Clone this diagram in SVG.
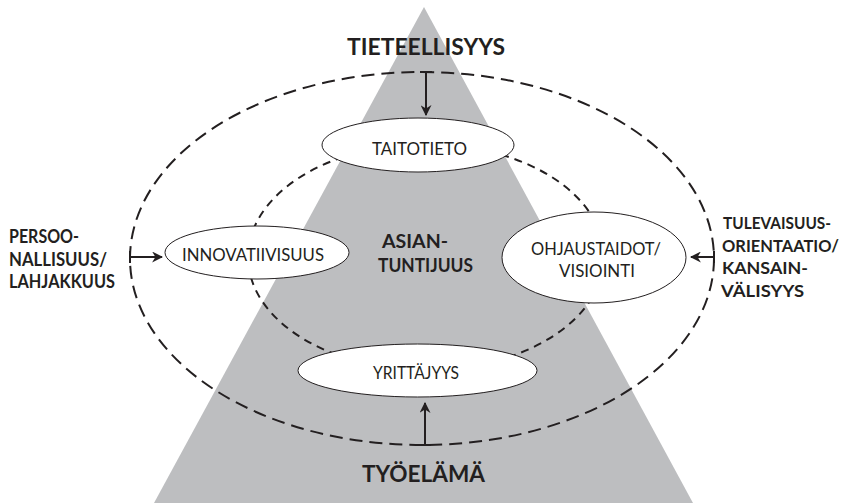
<svg xmlns="http://www.w3.org/2000/svg" width="847" height="503" viewBox="0 0 847 503">
  <defs>
    <style>
      .ring-outer { fill: none; stroke: #231f20; stroke-width: 2; stroke-dasharray: 13 7; }
      .ring-inner { fill: none; stroke: #231f20; stroke-width: 2; stroke-dasharray: 8 6; }
      .node { fill: #ffffff; stroke: #231f20; stroke-width: 1; }
      .link { fill: none; stroke: #231f20; stroke-width: 2; marker-end: url(#head); }
      .tick { stroke: #231f20; stroke-width: 2; }
      .lbl { font-family: Lato, "Liberation Sans", sans-serif; fill: #231f20; }
      .node-txt { font-size: 17.5px; font-weight: 400; }
      .side { font-size: 18.5px; font-weight: 700; }
      .side-r { font-size: 17px; font-weight: 700; }
      .title { font-size: 22.5px; font-weight: 700; }
    </style>
    <marker id="head" viewBox="0 0 10 10" refX="9" refY="5" markerWidth="5.5" markerHeight="5.5" orient="auto" markerUnits="strokeWidth">
      <path d="M0,0 L10,5 L0,10 L3,5 z" fill="#231f20"/>
    </marker>
  </defs>

  <!-- pyramid background -->
  <polygon id="pyramid" points="424,7 693,503 154,503" fill="#bdbec0"/>

  <!-- dashed rings -->
  <ellipse class="ring-outer" cx="422" cy="258.5" rx="292" ry="186.5"/>
  <ellipse class="ring-inner" cx="426" cy="257" rx="178" ry="113"/>

  <!-- connectors -->
  <g id="connectors">
    <line class="link" x1="426" y1="72" x2="426" y2="115"/>
    <line class="tick" x1="420" y1="72" x2="432" y2="72"/>
    <line class="link" x1="425" y1="445" x2="425" y2="403"/>
    <line class="tick" x1="419" y1="445" x2="431" y2="445"/>
    <line class="link" x1="130" y1="257" x2="162" y2="257"/>
    <line class="tick" x1="130" y1="251" x2="130" y2="263"/>
    <line class="link" x1="714" y1="257" x2="691" y2="257"/>
    <line class="tick" x1="714" y1="251" x2="714" y2="263"/>
  </g>

  <!-- nodes -->
  <g id="taitotieto">
    <ellipse class="node" cx="418" cy="145" rx="96" ry="27"/>
    <text class="lbl node-txt" x="372" y="155" textLength="95" lengthAdjust="spacingAndGlyphs">TAITOTIETO</text>
  </g>
  <g id="innovatiivisuus">
    <ellipse class="node" cx="257" cy="252.5" rx="92" ry="26.5"/>
    <text class="lbl node-txt" x="182" y="261" textLength="142" lengthAdjust="spacingAndGlyphs">INNOVATIIVISUUS</text>
  </g>
  <g id="ohjaustaidot">
    <ellipse class="node" cx="594" cy="257.5" rx="92" ry="45.5"/>
    <text class="lbl node-txt" x="531" y="255" textLength="130" lengthAdjust="spacingAndGlyphs">OHJAUSTAIDOT/</text>
    <text class="lbl node-txt" x="559" y="277" textLength="76" lengthAdjust="spacingAndGlyphs">VISIOINTI</text>
  </g>
  <g id="yrittajyys">
    <ellipse class="node" cx="417.5" cy="370.5" rx="119.5" ry="26.5"/>
    <text class="lbl node-txt" x="373" y="379" textLength="86" lengthAdjust="spacingAndGlyphs">YRITTÄJYYS</text>
  </g>

  <!-- centre label -->
  <g id="asiantuntijuus">
    <text class="lbl side" x="382" y="248" textLength="66" lengthAdjust="spacingAndGlyphs">ASIAN-</text>
    <text class="lbl side" x="378" y="272" textLength="95" lengthAdjust="spacingAndGlyphs">TUNTIJUUS</text>
  </g>

  <!-- outer influences -->
  <g id="tieteellisyys">
    <text class="lbl title" x="347" y="55" textLength="158" lengthAdjust="spacingAndGlyphs">TIETEELLISYYS</text>
  </g>
  <g id="tyoelama">
    <text class="lbl title" x="362" y="482" textLength="123" lengthAdjust="spacingAndGlyphs">TYÖELÄMÄ</text>
  </g>
  <g id="persoonallisuus">
    <text class="lbl side" x="9" y="243" textLength="70" lengthAdjust="spacingAndGlyphs">PERSOO-</text>
    <text class="lbl side" x="9" y="266" textLength="98" lengthAdjust="spacingAndGlyphs">NALLISUUS/</text>
    <text class="lbl side" x="9" y="288" textLength="106" lengthAdjust="spacingAndGlyphs">LAHJAKKUUS</text>
  </g>
  <g id="tulevaisuus">
    <text class="lbl side-r" x="723" y="229" textLength="108" lengthAdjust="spacingAndGlyphs">TULEVAISUUS-</text>
    <text class="lbl side-r" x="722" y="252" textLength="117" lengthAdjust="spacingAndGlyphs">ORIENTAATIO/</text>
    <text class="lbl side-r" x="722" y="274" textLength="86" lengthAdjust="spacingAndGlyphs">KANSAIN-</text>
    <text class="lbl side-r" x="721" y="297" textLength="83" lengthAdjust="spacingAndGlyphs">VÄLISYYS</text>
  </g>
</svg>
